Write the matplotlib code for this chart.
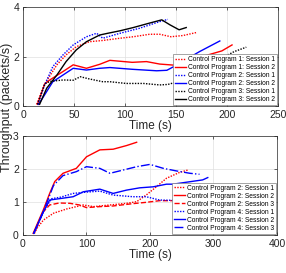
import matplotlib
matplotlib.use('Agg')
import matplotlib.pyplot as plt

plt.rcParams['font.family'] = ['Liberation Sans', 'DejaVu Sans']

# ---- top panel: control programs 1-3 ----
p1s1_t = [13, 21, 33, 42, 52, 65, 78, 95, 108, 124, 134, 145, 157, 170]
p1s1_y = [0.08, 0.9, 1.67, 2.07, 2.4, 2.6, 2.65, 2.74, 2.8, 2.9, 2.9, 2.8, 2.85, 2.97]
p1s2_t = [14, 21, 26, 39, 49, 62, 75, 85, 107, 121, 134, 147, 195, 205]
p1s2_y = [0.08, 0.9, 1.06, 1.4, 1.67, 1.53, 1.69, 1.85, 1.77, 1.8, 1.7, 1.66, 2.23, 2.47]
p2s1_t = [14, 21, 29, 39, 49, 62, 72, 78, 95, 114, 134, 142]
p2s1_y = [0.08, 0.86, 1.6, 2.07, 2.47, 2.8, 2.94, 2.74, 2.94, 3.14, 3.41, 3.5]
p2s2_t = [15, 20, 29, 39, 49, 62, 75, 85, 107, 131, 141, 147, 173, 193]
p2s2_y = [0.08, 0.4, 0.99, 1.26, 1.53, 1.46, 1.53, 1.56, 1.49, 1.43, 1.45, 1.58, 2.2, 2.63]
p3s1_t = [14, 21, 26, 39, 49, 56, 65, 78, 85, 101, 118, 134, 142, 150, 207, 219]
p3s1_y = [0.08, 0.9, 1.0, 1.06, 1.05, 1.19, 1.1, 0.99, 0.99, 0.92, 0.92, 0.86, 0.88, 0.97, 2.2, 2.38]
p3s2_t = [16, 23, 33, 42, 52, 62, 75, 83, 95, 108, 124, 136, 144, 153, 160]
p3s2_y = [0.08, 0.73, 1.26, 1.8, 2.27, 2.6, 2.87, 2.94, 3.04, 3.17, 3.35, 3.48, 3.28, 3.08, 3.17]

# ---- bottom panel: control programs 2 and 4 ----
c2s1_t = [18, 22, 32, 48, 69, 95, 111, 137, 163, 179, 194, 210, 226, 247, 260]
c2s1_y = [0.05, 0.2, 0.45, 0.66, 0.79, 0.91, 0.86, 0.91, 0.96, 1.01, 1.21, 1.46, 1.72, 1.9, 1.97]
c2s2_t = [16, 32, 42, 50, 63, 84, 100, 121, 142, 163, 179]
c2s2_y = [0.05, 0.76, 1.26, 1.62, 1.87, 2.02, 2.37, 2.58, 2.6, 2.71, 2.81]
c2s3_t = [17, 32, 42, 57, 74, 89, 100, 121, 142, 173, 194, 215, 236, 258]
c2s3_y = [0.05, 0.7, 0.91, 0.97, 0.96, 0.91, 0.83, 0.86, 0.88, 0.95, 0.99, 1.04, 1.04, 1.05]
c4s1_t = [17, 32, 45, 60, 79, 100, 121, 142, 173, 194, 215, 240, 268]
c4s1_y = [0.05, 0.72, 1.1, 1.15, 1.26, 1.3, 1.33, 1.21, 1.16, 1.16, 1.06, 1.05, 1.05]
c4s2_t = [17, 32, 42, 57, 79, 95, 121, 142, 163, 184, 205, 226, 236, 283, 291]
c4s2_y = [0.05, 0.7, 1.06, 1.1, 1.16, 1.31, 1.39, 1.26, 1.36, 1.43, 1.46, 1.54, 1.54, 1.67, 1.74]
c4s3_t = [17, 32, 48, 63, 84, 100, 121, 137, 158, 179, 200, 221, 242, 263, 278]
c4s3_y = [0.05, 0.7, 1.5, 1.8, 1.92, 2.07, 2.02, 1.87, 1.97, 2.07, 2.14, 2.02, 1.94, 1.87, 1.84]

dot = (0, (1, 1))
lw = 1.0

fig = plt.figure(figsize=(2.86, 2.73), dpi=100)
ax1 = fig.add_axes([0.0815, 0.6106, 0.890, 0.364])
ax2 = fig.add_axes([0.0804, 0.1392, 0.888, 0.3626])

ax1.plot(p1s1_t, p1s1_y, color='red', ls=dot, lw=lw, label='Control Program 1: Session 1')
ax1.plot(p1s2_t, p1s2_y, color='red', ls='-', lw=lw, label='Control Program 1: Session 2')
ax1.plot(p2s1_t, p2s1_y, color='blue', ls=dot, lw=lw, label='Control Program 2: Session 1')
ax1.plot(p2s2_t, p2s2_y, color='blue', ls='-', lw=lw, label='Control Program 2: Session 2')
ax1.plot(p3s1_t, p3s1_y, color='black', ls=dot, lw=lw, label='Control Program 3: Session 1')
ax1.plot(p3s2_t, p3s2_y, color='black', ls='-', lw=lw, label='Control Program 3: Session 2')

ax2.plot(c2s1_t, c2s1_y, color='red', ls=dot, lw=lw, label='Control Program 2: Session 1')
ax2.plot(c2s2_t, c2s2_y, color='red', ls='-', lw=lw, label='Control Program 2: Session 2')
ax2.plot(c2s3_t, c2s3_y, color='red', ls='--', lw=lw, label='Control Program 2: Session 3')
ax2.plot(c4s1_t, c4s1_y, color='blue', ls=dot, lw=lw, label='Control Program 4: Session 1')
ax2.plot(c4s2_t, c4s2_y, color='blue', ls='-', lw=lw, label='Control Program 4: Session 2')
ax2.plot(c4s3_t, c4s3_y, color='blue', ls='-.', lw=lw, label='Control Program 4: Session 3')

ax1.set_xlim(0, 250)
ax1.set_ylim(0, 4)
ax1.set_xticks(range(0, 251, 50))
ax1.set_yticks([0, 2, 4])
ax2.set_xlim(0, 400)
ax2.set_ylim(0, 3)
ax2.set_xticks(range(0, 401, 100))
ax2.set_yticks([0, 1, 2, 3])

for ax in (ax1, ax2):
    ax.grid(True, color='0.88', lw=0.5)
    ax.set_axisbelow(True)
    ax.tick_params(direction='in', length=2.5, width=0.5, top=True, right=True,
                   labelsize=7.5, pad=3, colors='0.15')
    for s in ax.spines.values():
        s.set_linewidth(0.5)
        s.set_color('0.15')
    ax.set_xlabel('Time (s)', fontsize=8.5, labelpad=0, color='0.15')
    leg = ax.legend(loc='lower right', fontsize=4.8, borderaxespad=0.2,
                    handlelength=1.6, handletextpad=0.3, labelspacing=0.15,
                    borderpad=0.3, fancybox=False, framealpha=1, edgecolor='0.5')
    leg.get_frame().set_linewidth(0.5)

fig.text(0.025, 0.608, 'Throughput (packets/s)', rotation=90, ha='center',
         va='center', fontsize=9, color='0.15')

fig.savefig('out.png', dpi=100)
